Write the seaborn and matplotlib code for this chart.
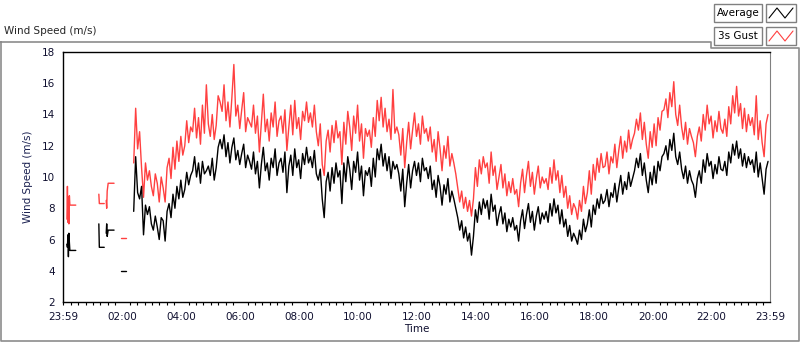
import numpy as np
import pandas as pd
import matplotlib.pyplot as plt
from matplotlib.lines import Line2D
from matplotlib.patches import Rectangle
import seaborn as sns

# sparse logging before the continuous record (minutes after 23:59)
early_minutes = [[8, 9, 10, 11, 12, 13, 14, 26],
                 [73, 74, 84],
                 [88, 89, 90, 92, 94, 104],
                 [118, 129]]
early_avg = [[5.7, 5.5, 6.3, 4.9, 6.4, 5.8, 5.3, 5.3],
             [7.0, 5.5, 5.5],
             [6.4, 7.0, 6.2, 6.6, 6.6, 6.6],
             [4.0, 4.0]]
early_gust = [[7.3, 9.4, 7.1, 8.7, 7.0, 8.8, 8.2, 8.2],
              [8.9, 8.3, 8.3],
              [8.5, 8.0, 9.1, 9.6, 9.6, 9.6],
              [6.1, 6.1]]

# continuous record: one sample every 4 minutes from 02:23
cont_start = 144
cont_step = 4
avg_speed = [
    7.8, 11.3, 9.0, 8.6, 9.4, 6.3, 8.2, 7.6, 8.1, 7.0, 6.6, 7.5, 6.8, 6.0, 7.4,
    7.2, 5.9, 7.8, 8.3, 7.4, 8.9, 8.0, 9.4, 8.6, 9.8, 8.7, 9.2, 10.3, 9.5, 10.1,
    10.4, 11.3, 10.0, 10.9, 9.6, 11.0, 10.2, 10.4, 10.7, 10.1, 11.2, 9.8, 10.6, 11.9, 12.4,
    11.8, 12.7, 11.3, 12.2, 10.9, 11.9, 12.5, 11.1, 11.7, 10.8, 11.5, 12.1, 10.6, 11.4, 11.0,
    10.5, 11.6, 10.2, 11.0, 9.3, 10.8, 11.9, 10.4, 10.9, 9.8, 11.2, 10.6, 11.8, 10.1, 10.9,
    11.2, 10.3, 11.6, 9.0, 10.7, 11.4, 10.1, 11.8, 10.6, 11.1, 9.9, 11.5, 10.8, 11.9, 10.9,
    11.3, 10.6, 11.7, 10.2, 9.8, 10.5, 8.6, 7.4, 9.7, 10.3, 9.1, 10.6, 9.6, 10.9, 10.0,
    10.4, 8.3, 10.9, 9.7, 11.3, 10.5, 9.2, 11.0, 10.3, 11.6, 9.8, 10.7, 8.8, 10.4, 10.1,
    10.6, 9.4, 11.2, 10.0, 11.8, 11.1, 12.1, 10.7, 11.5, 10.4, 11.3, 9.9, 11.0, 10.5, 10.8,
    10.2, 9.1, 10.5, 8.1, 9.6, 10.8, 9.3, 10.4, 11.0, 10.1, 10.9, 9.7, 11.2, 10.4, 10.6,
    9.9, 10.7, 9.2, 9.8, 8.7, 10.1, 9.4, 8.2, 9.5, 8.9, 9.9, 8.4, 9.1, 8.6, 8.0,
    7.4, 6.6, 7.2, 6.1, 6.8, 5.9, 6.4, 5.0, 6.2, 7.9, 7.1, 8.4, 7.6, 8.6, 8.0,
    8.5, 7.3, 8.9, 7.8, 8.2, 6.9, 7.6, 8.1, 7.0, 7.7, 6.5, 7.3, 6.8, 7.4, 6.6,
    6.9, 5.9, 7.2, 7.9, 6.7, 7.6, 8.3, 7.1, 7.8, 6.6, 7.5, 8.1, 7.0, 7.7, 7.3,
    7.8, 7.1, 8.3, 7.5, 8.6, 7.7, 8.2, 7.0, 7.9, 6.8, 7.3, 6.2, 6.9, 5.9, 6.4,
    6.1, 5.7, 6.6, 6.0, 7.3, 6.5, 7.0, 7.9, 6.8, 8.2, 7.6, 8.6, 8.0, 8.9, 8.3,
    8.5, 9.2, 8.1, 9.0, 8.7, 9.6, 8.4, 9.3, 10.1, 8.9, 9.7, 9.2, 10.3, 9.4, 9.9,
    10.4, 11.2, 10.6, 11.5, 10.1, 10.9, 9.8, 9.0, 10.3, 9.5, 10.7, 9.6, 11.0, 10.4, 11.3,
    11.5, 12.0, 11.1, 12.4, 11.7, 12.8, 11.3, 10.8, 11.6, 10.5, 9.9, 10.7, 9.6, 10.4, 9.8,
    9.5, 8.7, 9.9, 10.4, 9.6, 11.1, 10.3, 11.5, 10.7, 11.0, 9.9, 10.8, 10.2, 11.3, 10.5,
    10.4, 11.0, 10.1, 11.6, 10.9, 12.1, 11.4, 12.3, 11.2, 11.8, 10.7, 11.5, 10.6, 11.3, 10.8,
    11.1, 10.3, 11.6, 10.0, 10.9, 9.9, 8.9, 10.5, 11.0]
gust_speed = [
    10.9, 14.4, 11.8, 12.9, 10.6, 8.7, 10.9, 9.8, 10.4, 9.4, 8.8, 10.2, 9.6, 8.4, 10.0,
    9.3, 8.4, 10.6, 11.2, 9.9, 11.9, 10.5, 12.3, 11.0, 12.6, 11.4, 12.0, 13.6, 12.2, 13.2,
    12.9, 14.4, 12.5, 13.8, 12.1, 14.6, 12.8, 15.9, 13.4, 12.6, 14.0, 12.4, 13.3, 15.2, 14.8,
    14.2, 15.9, 13.6, 14.8, 13.2, 15.1, 17.2, 13.9, 14.6, 13.1, 14.3, 15.4, 12.9, 13.8, 13.5,
    13.2, 14.6, 12.8, 13.9, 11.6, 13.4, 15.3, 12.9, 13.7, 12.3, 14.1, 13.2, 14.8, 12.6, 13.6,
    13.9, 12.8, 14.3, 11.7, 13.2, 14.6, 12.7, 14.9, 13.1, 13.8, 12.4, 14.2, 13.6, 14.8, 13.5,
    14.1, 13.2, 14.6, 12.9, 12.0, 13.4, 10.8, 10.1, 12.3, 13.0, 11.6, 13.3, 12.2, 13.6, 12.5,
    12.9, 10.8, 13.5, 12.1, 14.2, 13.2, 11.7, 13.9, 12.8, 14.6, 12.3, 13.4, 11.2, 13.1, 12.6,
    13.0, 11.9, 13.8, 12.6, 14.9, 13.6, 15.1, 13.2, 14.4, 12.9, 13.7, 12.4, 15.6, 12.8, 13.2,
    12.7, 11.4, 13.1, 10.6, 12.2, 13.5, 11.8, 13.0, 14.1, 12.6, 13.4, 12.1, 13.9, 12.8, 13.1,
    12.3, 13.2, 11.6, 12.4, 11.0, 12.9, 11.8, 10.4, 12.0, 11.2, 12.6, 10.7, 11.5, 10.9, 10.2,
    9.3, 8.4, 9.1, 8.0, 8.7, 7.8, 8.5, 7.5, 8.6, 10.6, 9.4, 11.1, 10.2, 11.3, 10.6,
    10.9, 9.6, 11.6, 10.1, 10.7, 9.2, 10.0, 10.8, 9.3, 10.2, 8.8, 9.7, 9.0, 9.9, 8.9,
    9.2, 8.1, 9.6, 10.5, 9.0, 10.1, 11.0, 9.4, 10.3, 8.9, 9.9, 10.7, 9.3, 10.0, 9.6,
    9.9, 9.2, 10.6, 9.6, 11.1, 9.8, 10.4, 9.0, 10.1, 8.7, 9.4, 8.0, 8.8, 7.6, 8.3,
    8.0, 7.3, 8.5, 7.8, 9.4, 8.3, 9.0, 10.4, 8.9, 10.8, 9.8, 11.2, 10.3, 11.5, 10.6,
    10.7, 11.6, 10.2, 11.3, 10.9, 12.1, 10.6, 11.7, 12.6, 11.2, 12.3, 11.6, 13.0, 11.8, 12.4,
    12.8, 13.7, 13.0, 14.1, 12.4, 13.5, 12.1, 11.2, 12.9, 11.9, 13.4, 12.0, 13.8, 13.0, 14.2,
    14.3, 15.0, 13.8, 15.4, 14.5, 16.1, 14.0, 13.3, 14.6, 13.2, 12.4, 13.5, 12.1, 13.1, 12.6,
    12.2, 11.3, 12.6, 13.2, 12.3, 14.0, 13.0, 14.6, 13.4, 13.9, 12.5, 13.6, 12.9, 14.2, 13.1,
    12.8, 13.7, 12.6, 14.5, 13.4, 15.2, 14.1, 15.8, 13.9, 14.7, 13.1, 14.4, 12.9, 14.0, 13.3,
    13.8, 12.7, 15.2, 12.4, 13.6, 12.2, 11.3, 13.4, 14.0]

tick_minutes = [0, 121, 241, 361, 481, 601, 721, 841, 961, 1081, 1201, 1321, 1440]
tick_labels = ["23:59", "02:00", "04:00", "06:00", "08:00", "10:00", "12:00",
               "14:00", "16:00", "18:00", "20:00", "22:00", "23:59"]

# build long table, one "segment" per unbroken stretch of logging
rows = []
for seg, (mins, av, gu) in enumerate(zip(early_minutes, early_avg, early_gust)):
    for m, a, g in zip(mins, av, gu):
        rows.append((m, a, "Average", seg))
        rows.append((m, g, "3s Gust", seg))
for i, (a, g) in enumerate(zip(avg_speed, gust_speed)):
    m = cont_start + cont_step * i
    rows.append((m, a, "Average", 99))
    rows.append((m, g, "3s Gust", 99))
df = pd.DataFrame(rows, columns=["minute", "speed", "series", "segment"])

sns.set_style("white")
plt.rcParams["font.family"] = ["DejaVu Sans"]

fig = plt.figure(figsize=(8, 3.42), dpi=100)
W, H = 800, 342
ax = fig.add_axes([63 / W, 1 - 302 / H, (770 - 63) / W, (302 - 52) / H])

sns.lineplot(data=df, x="minute", y="speed", hue="series", units="segment",
             estimator=None, hue_order=["3s Gust", "Average"],
             palette={"3s Gust": "#ff4040", "Average": "#000000"},
             linewidth=1.0, legend=False, ax=ax)

ax.set_xlim(0, 1440)
ax.set_ylim(2, 18)
ax.set_yticks(range(2, 19, 2))
ax.set_xticks(tick_minutes)
ax.set_xticklabels(tick_labels)
ax.set_xticks(np.arange(1, 1440, 15), minor=True)
ax.tick_params(axis="both", which="major", direction="out", length=4, width=1,
               labelsize=7.5, colors="#000000", labelcolor="#101030", pad=2)
ax.tick_params(axis="x", which="minor", direction="out", length=2.5, width=0.8,
               bottom=True, color="#000000")
ax.tick_params(axis="x", which="major", length=5, width=1.5)
ax.set_xlabel("Time", fontsize=7.5, color="#101030", labelpad=2)
ax.set_ylabel("Wind Speed (m/s)", fontsize=7.5, color="#1a2050", labelpad=6)

for side in ["left", "bottom", "top"]:
    ax.spines[side].set_color("#000000")
    ax.spines[side].set_linewidth(1.0)
ax.spines["right"].set_color("#808080")

# outer panel frame
fx = [0.5, 711, 711, 799, 799, 0.5, 0.5]
fy = [42, 42, 48, 48, 341, 341, 42]
fig.add_artist(Line2D([x / W for x in fx], [1 - y / H for y in fy],
                      transform=fig.transFigure, color="#8c8c8c", lw=1.2))

fig.text(4 / W, 1 - 31 / H, "Wind Speed (m/s)", fontsize=7.5, ha="left", va="center")

# legend boxes
for top, label, col in [(4, "Average", "#000000"), (27, "3s Gust", "#ff4040")]:
    fig.add_artist(Rectangle((714 / W, 1 - (top + 18) / H), 48 / W, 18 / H,
                             transform=fig.transFigure, fc="white", ec="#808080", lw=1))
    fig.text(738 / W, 1 - (top + 9) / H, label, fontsize=7.5, ha="center", va="center",
             color="#000000")
    fig.add_artist(Rectangle((766 / W, 1 - (top + 18) / H), 30 / W, 18 / H,
                             transform=fig.transFigure, fc="white", ec="#808080", lw=1))
    sx = [769, 777, 785, 793]
    sy = [top + 14, top + 4, top + 14, top + 4]
    fig.add_artist(Line2D([x / W for x in sx], [1 - y / H for y in sy],
                          transform=fig.transFigure, color=col, lw=0.8))

fig.savefig("out.png", dpi=100)
